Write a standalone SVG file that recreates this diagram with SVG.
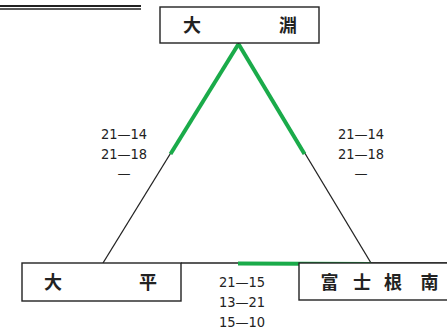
<svg xmlns="http://www.w3.org/2000/svg" width="447" height="330" viewBox="0 0 447 330">
<style>
.box{fill:#fff;stroke:#222;stroke-width:1.4}
.ln{stroke:#222;stroke-width:1.3;fill:none}
.gr{stroke:#1aab4a;stroke-width:4;fill:none;stroke-linecap:butt}
.nm{font-family:"Noto Sans CJK JP","Noto Sans CJK SC",sans-serif;font-weight:bold;font-size:18px;fill:#222;text-anchor:middle}
.sc{font-family:"DejaVu Sans Condensed","DejaVu Sans",sans-serif;font-stretch:condensed;font-size:14.5px;fill:#222;text-anchor:middle}
</style>
<g id="title-rule">
<line x1="0" y1="6" x2="141" y2="6" stroke="#222" stroke-width="2"/>
<line x1="0" y1="9" x2="141" y2="9" stroke="#222" stroke-width="1.3"/>
</g>
<g id="connectors">
<line class="ln" x1="238.5" y1="43" x2="103" y2="263"/>
<line class="ln" x1="238.5" y1="43" x2="371" y2="263"/>
<line class="ln" x1="181" y1="263" x2="447" y2="263"/>
<line class="gr" x1="238.5" y1="44" x2="170.5" y2="154"/>
<line class="gr" x1="238.5" y1="44" x2="304.5" y2="154"/>
<line class="gr" x1="238" y1="263.5" x2="371" y2="264"/>
</g>
<g id="node-ofuchi">
<rect class="box" x="160" y="7" width="159" height="36"/>
<text class="nm" x="192" y="32">大</text>
<text class="nm" x="288" y="32">淵</text>
</g>
<g id="node-ohira">
<rect class="box" x="22" y="263" width="159" height="38"/>
<text class="nm" x="53" y="289">大</text>
<text class="nm" x="148" y="289">平</text>
</g>
<g id="node-fujinekita">
<rect class="box" x="299" y="263" width="160" height="37"/>
<text class="nm" x="329.5" y="289">富</text>
<text class="nm" x="362" y="289">士</text>
<text class="nm" x="393" y="289">根</text>
<text class="nm" x="429.5" y="289">南</text>
</g>
<g id="scores">
<text class="sc" x="124" y="139">21—14</text>
<text class="sc" x="124" y="159">21—18</text>
<text class="sc" x="124" y="178">—</text>
<text class="sc" x="361" y="139">21—14</text>
<text class="sc" x="361" y="159">21—18</text>
<text class="sc" x="361" y="178">—</text>
<text class="sc" x="242" y="287">21—15</text>
<text class="sc" x="242" y="307">13—21</text>
<text class="sc" x="242" y="327">15—10</text>
</g>
</svg>
